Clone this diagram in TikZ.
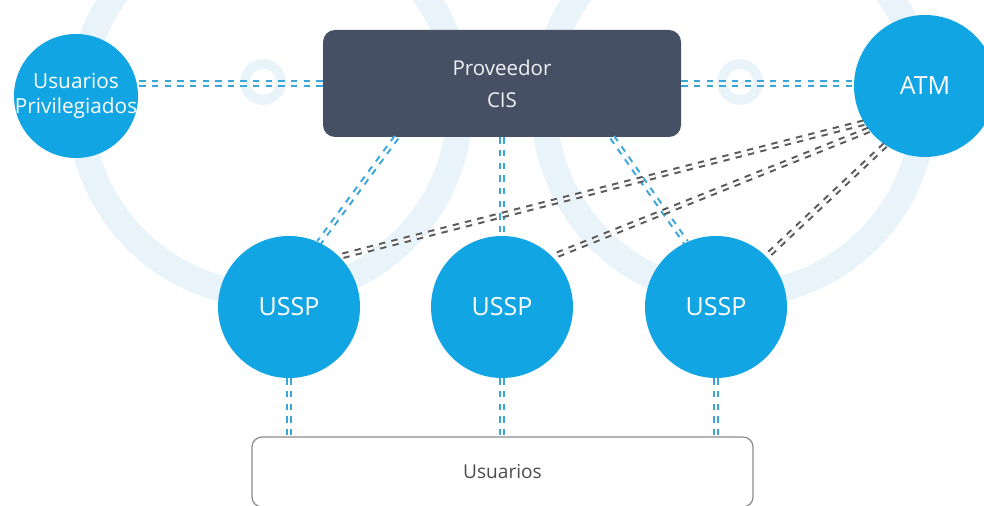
\documentclass[tikz,border=0pt]{standalone}
\usepackage{fontspec}
\setmainfont{Open Sans}

\definecolor{usspblue}{HTML}{12A5E3}
\definecolor{cisslate}{HTML}{455064}
\definecolor{linkblue}{HTML}{38A6DA}
\definecolor{linkgray}{HTML}{595959}
\definecolor{boxgray}{HTML}{8C8C8C}
\definecolor{marcablue}{HTML}{E8F4FA}

\begin{document}
\begin{tikzpicture}[
  bubble/.style={circle, fill=usspblue, text=white, inner sep=0pt, minimum size=3.55cm,
                 font=\fontsize{17.8}{20}\selectfont},
  link/.style={line width=1.45pt, double=white, double distance=1.7pt, dash pattern=on 4.5pt off 4.5pt},
  bluelink/.style={link, draw=linkblue},
  graylink/.style={link, draw=linkgray},
  ring/.style={draw=marcablue, line width=18.5pt}
]

\useasboundingbox [fill=white] (0,0) rectangle (24.6,12.65);

%% faint logo behind
\draw [ring] (6.75,10.025) circle (4.75);
\draw [ring] (18.35,10.025) circle (4.75);
\draw [ring, line width=7pt] (6.575,10.6) circle (0.45);
\draw [ring, line width=7pt] (18.5,10.6) circle (0.45);



\node [bubble, minimum size=3.1cm,
       label={[align=center, text=white, font=\fontsize{14.8}{17.8}\selectfont]center:Usuarios\\Privilegiados}]
      (u-priv) at (1.9,10.25){};

\node [fill=cisslate, text=white!92!cisslate, rounded corners=0.3cm, minimum width=8.95cm,
       minimum height=2.675cm, align=center, font=\fontsize{14.6}{22.8}\selectfont]
      (cis) at (12.55,10.5625){Proveedor\\CIS};

\node [bubble] (atm) at (23.125,10.5){ATM};



\node [bubble] (ussp-1) at (7.225,4.975){USSP};
\node [bubble] (ussp-2) at (12.55,4.975){USSP};
\node [bubble] (ussp-3) at (17.9,4.975){USSP};



\node [draw=boxgray, line width=0.9pt, rounded corners=0.25cm, minimum width=12.525cm,
       minimum height=1.75cm, text=black!70, font=\fontsize{13.6}{16}\selectfont]
      (usuarios) at (12.5625,0.85){Usuarios};


%% CIS links
\draw [bluelink]   (cis.west) -- (cis.west -| u-priv.east);
\draw [bluelink]   (cis.east) -- (cis.east -| atm.west);
\draw [bluelink]   (cis.207) -- (ussp-1.65);
\draw [bluelink]   (cis.south) -- (ussp-2.north);
\draw [bluelink]   (cis.334) -- (ussp-3.115);

%% ATM links
\draw [graylink]   (atm.211) -- (ussp-1.45);
\draw [graylink]   (atm.218) -- (ussp-2.45);
\draw [graylink]   (atm.236) -- (ussp-3.45);

%% down to users
\draw [bluelink]   (ussp-1.south) -- (ussp-1.south |- usuarios.north);
\draw [bluelink]   (ussp-2.south) -- (ussp-2.south |- usuarios.north);
\draw [bluelink]   (ussp-3.south) -- (ussp-3.south |- usuarios.north);

\end{tikzpicture}
\end{document}
